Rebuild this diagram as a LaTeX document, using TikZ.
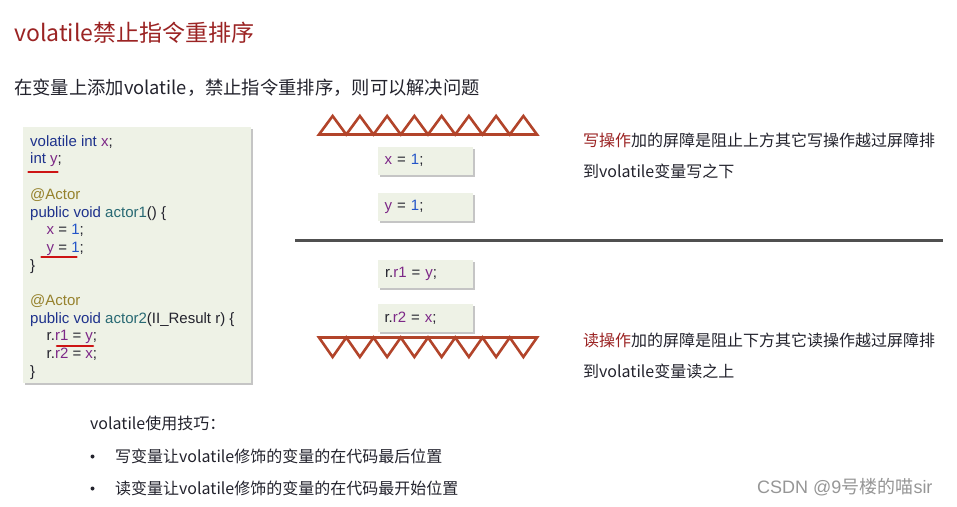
\documentclass[tikz,border=0pt]{standalone}
\usepackage{fontspec}
\setmainfont{Noto Sans CJK SC}
\newfontfamily\codefont{Liberation Sans}
\usetikzlibrary{shadows}
\definecolor{kw}{RGB}{30,50,140}
\definecolor{var}{RGB}{125,40,135}
\definecolor{num}{RGB}{35,85,200}
\definecolor{ann}{RGB}{150,130,45}
\definecolor{fn}{RGB}{40,105,115}
\definecolor{txt}{RGB}{35,35,45}
\definecolor{titlered}{RGB}{155,35,35}
\definecolor{barriercol}{RGB}{178,68,42}
\definecolor{boxfill}{RGB}{238,242,230}
\definecolor{ulred}{RGB}{205,20,20}
\definecolor{sepgray}{RGB}{80,80,80}
\definecolor{wmgray}{RGB}{150,150,150}
\tikzset{
  codebg/.style={fill=boxfill, draw=none, inner sep=0pt,
    drop shadow={shadow xshift=2pt, shadow yshift=-2pt, opacity=0.45, fill=gray}},
  smallbox/.style={codebg, minimum width=95pt, minimum height=28pt, text width=81pt,
    align=left, inner xsep=7pt, font=\codefont\fontsize{15}{18}\selectfont, text=txt},
  codeline/.style={anchor=base west, inner sep=0pt, font=\codefont\fontsize{15}{18}\selectfont, text=txt},
  barrier/.style={draw=barriercol, line width=2.6pt, line join=miter},
  uline/.style={draw=ulred, line width=2.6pt, line cap=round},
  cjktext/.style={anchor=base west, inner sep=0pt, font=\fontsize{16}{19}\selectfont, text=txt},
}
\begin{document}
\begin{tikzpicture}[x=1pt, y=-1pt]
\useasboundingbox[fill=white] (0,0) rectangle (957,506);

% title and subtitle
\node[anchor=base west, inner sep=0pt, font=\fontsize{23}{27}\selectfont, text=titlered] (title) at (14,41.7) {volatile禁止指令重排序};
\node[anchor=base west, inner sep=0pt, font=\fontsize{18.3}{22}\selectfont, text=txt] (subtitle) at (14,94) {在变量上添加volatile，禁止指令重排序，则可以解决问题};

% code box
\node[codebg, minimum width=228pt, minimum height=256pt, anchor=north west] (codebox) at (23,127) {};
\node[codeline] (c1) at (30,146.2) {\textcolor{kw}{volatile int} \textcolor{var}{x};};
\node[codeline] (c2) at (30,163.9) {\textcolor{kw}{int} \textcolor{var}{y};};
\node[codeline] (c3) at (30,199.3) {\textcolor{ann}{@Actor}};
\node[codeline] (c4) at (30,217.0) {\textcolor{kw}{public void} \textcolor{fn}{actor1}() \{};
\node[codeline] (c5) at (46.5,234.7) {\textcolor{var}{x} = \textcolor{num}{1};};
\node[codeline] (c6) at (46.5,252.4) {\textcolor{var}{y} = \textcolor{num}{1};};
\node[codeline] (c7) at (30,270.1) {\}};
\node[codeline] (c8) at (30,305.5) {\textcolor{ann}{@Actor}};
\node[codeline] (c9) at (30,323.2) {\textcolor{kw}{public void} \textcolor{fn}{actor2}(II\_Result r) \{};
\node[codeline] (c10) at (46.5,340.9) {r.\textcolor{var}{r1} = \textcolor{var}{y};};
\node[codeline] (c11) at (46.5,358.6) {r.\textcolor{var}{r2} = \textcolor{var}{x};};
\node[codeline] (c12) at (30,376.3) {\}};

% red underlines
\coordinate (u1a) at (28.5,172); \coordinate (u1b) at (57.5,172);
\coordinate (u2a) at (41.5,257); \coordinate (u2b) at (76.5,257);
\coordinate (u3a) at (57,346); \coordinate (u3b) at (93,346);
\draw[uline] (u1a) -- (u1b);
\draw[uline] (u2a) -- (u2b);
\draw[uline] (u3a) -- (u3b);

% write barrier
\coordinate (wb) at (319,134.5);
\draw[barrier] (wb) \foreach \i in {0,...,7} { -- ++(13.625,-18.5) -- ++(13.625,18.5) } -- cycle;

% boxes
\node[smallbox] (bx1) at (425.2,160.5) {\textcolor{var}{x} = \textcolor{num}{1};};
\node[smallbox] (bx2) at (425.2,207.0) {\textcolor{var}{y} = \textcolor{num}{1};};

% separator
\coordinate (sepL) at (295,240); \coordinate (sepR) at (943,240);
\draw[draw=sepgray, line width=3pt] (sepL) -- (sepR);

\node[smallbox] (bx3) at (425.5,273.5) {r.\textcolor{var}{r1} = \textcolor{var}{y};};
\node[smallbox] (bx4) at (425.0,318.0) {r.\textcolor{var}{r2} = \textcolor{var}{x};};

% read barrier
\coordinate (rb) at (319,337.5);
\draw[barrier] (rb) \foreach \i in {0,...,7} { -- ++(13.625,19.5) -- ++(13.625,-19.5) } -- cycle;

% right texts
\node[cjktext] (w1) at (583,146.8) {\textcolor{titlered}{写操作}加的屏障是阻止上方其它写操作越过屏障排};
\node[cjktext] (w2) at (583,177.8) {到volatile变量写之下};
\node[cjktext] (r1) at (583,346.8) {\textcolor{titlered}{读操作}加的屏障是阻止下方其它读操作越过屏障排};
\node[cjktext] (r2) at (583,377.8) {到volatile变量读之上};

% bottom tips
\node[cjktext] (tip) at (90,429) {volatile使用技巧：};
\node[fill=txt, circle, inner sep=0pt, minimum size=4pt] (b1) at (92.5,456.5) {};
\node[cjktext] (t1) at (115,462.8) {写变量让volatile修饰的变量的在代码最后位置};
\node[fill=txt, circle, inner sep=0pt, minimum size=4pt] (b2) at (92.5,488.5) {};
\node[cjktext] (t2) at (115,494.4) {读变量让volatile修饰的变量的在代码最开始位置};

% watermark
\node[anchor=base west, inner sep=0pt, text=wmgray, font=\fontsize{18}{21}\selectfont] (wm) at (757,493.8) {{\codefont CSDN @9}号楼的喵{\codefont sir}};
\end{tikzpicture}
\end{document}
